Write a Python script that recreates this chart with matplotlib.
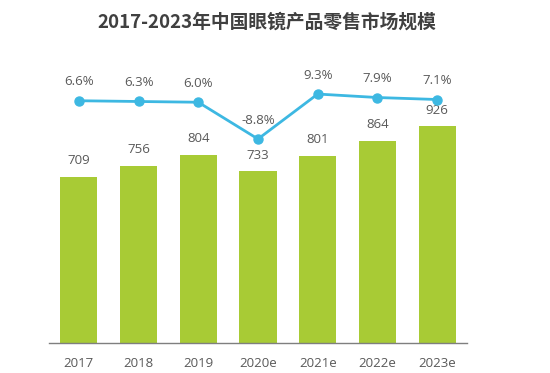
import matplotlib
matplotlib.use('Agg')
import matplotlib.pyplot as plt
import numpy as np

plt.rcParams['font.family'] = ['Noto Sans CJK SC', 'DejaVu Sans']

years = ['2017', '2018', '2019', '2020e', '2021e', '2022e', '2023e']
sales = [709, 756, 804, 733, 801, 864, 926]
growth = [6.6, 6.3, 6.0, -8.8, 9.3, 7.9, 7.1]
title = '2017-2023年中国眼镜产品零售市场规模'

bar_color = '#a8cb35'
line_color = '#3db8e2'
text_color = '#595959'
num_font = ['Open Sans', 'DejaVu Sans']

fig = plt.figure(figsize=(5.5, 3.73), dpi=100)
ax = fig.add_axes([49 / 550, 30 / 373, 418 / 550, 283 / 373])
x = np.arange(len(years))
ax.bar(x, sales, width=0.62, color=bar_color, zorder=2)
ax.set_xlim(-0.5, len(years) - 0.5)
ax.set_ylim(0, 1209)
for xi, v in zip(x, sales):
    ax.annotate(str(v), (xi, v), xytext=(0, 7), textcoords='offset points',
                ha='center', va='bottom', fontsize=9.5, color=text_color,
                family=num_font)

for s in ['top', 'right', 'left']:
    ax.spines[s].set_visible(False)
ax.spines['bottom'].set_color('#7f7f7f')
ax.spines['bottom'].set_linewidth(1)
ax.set_yticks([])
ax.set_xticks(x)
ax.set_xticklabels(years, fontsize=9.5, color=text_color, family=num_font)
ax.tick_params(axis='x', length=0, pad=10)

ax2 = ax.twinx()
ax2.plot(x, growth, color=line_color, lw=2, marker='o', ms=6.5, zorder=3)
ax2.set_ylim(-90.9, 23.0)
ax2.set_yticks([])
for s in ['top', 'right', 'left', 'bottom']:
    ax2.spines[s].set_visible(False)
for xi, g in zip(x, growth):
    ax2.annotate('%.1f%%' % g, (xi, g), xytext=(0, 9), textcoords='offset points',
                 ha='center', va='bottom', fontsize=9.5, color=text_color,
                 family=num_font)

fig.text(267 / 550, 0.94, title, ha='center', va='center', fontsize=13.5,
         fontweight='bold', color='#404040')

fig.savefig('out.png', dpi=100)
